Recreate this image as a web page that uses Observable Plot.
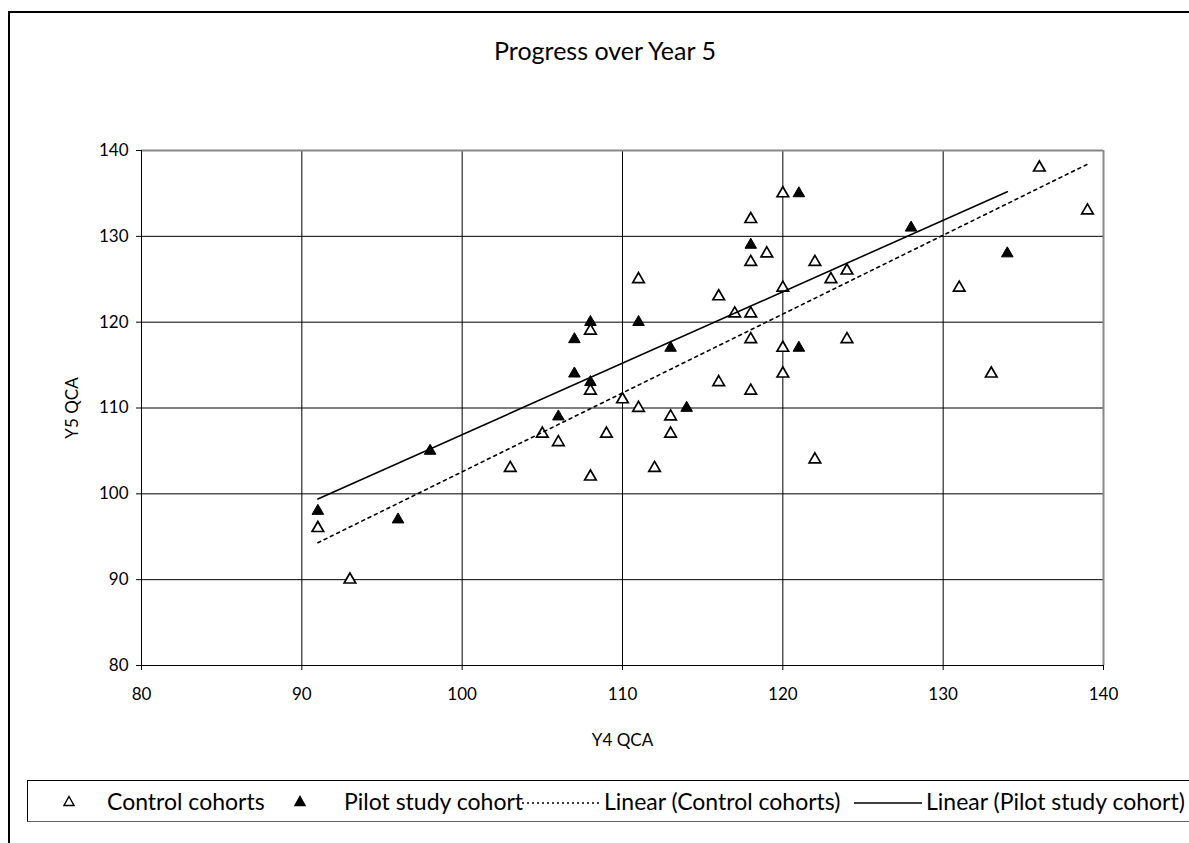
<!DOCTYPE html>
<html>
<head>
<meta charset="utf-8">
<script src="https://cdn.jsdelivr.net/npm/d3@7"></script>
<script src="https://cdn.jsdelivr.net/npm/@observablehq/plot@0.6"></script>
<style>
  body { margin: 0; background: #fff; font-family: Lato, sans-serif; color: #000; }
  #page { position: relative; width: 1189px; height: 843px; overflow: hidden; }
  #frame { position: absolute; left: 8px; top: 11px; width: 1300px; height: 900px; border-top: 2px solid #000; border-left: 2px solid #000; }
  #title { position: absolute; left: 0; width: 1210px; top: 35px; text-align: center; font-size: 25px; line-height: 30px; }
  #chart { position: absolute; left: 0; top: 0; }
  #legend { position: absolute; left: 27px; top: 780px; width: 1200px; height: 40px; border: 1px solid #000; border-bottom-color: #666; font-size: 23px; }
  #legend .item { position: absolute; top: 0; height: 40px; line-height: 40px; white-space: nowrap; }
  #legend svg { position: absolute; top: 0; }
</style>
</head>
<body>
<div id="page">
  <div id="frame"></div>
  <div id="title">Progress over Year 5</div>
  <div id="chart"></div>
  <div id="legend"></div>
</div>
<script>
  /* Datos */
  const controlX = [91, 93, 103, 105, 106, 108, 108, 108, 109, 110, 111, 111, 112, 113, 113, 116, 116, 117, 118, 118, 118, 118, 118, 119, 120, 120, 120, 120, 122, 122, 123, 124, 124, 131, 133, 136, 139]
  const controlY = [96, 90, 103, 107, 106, 102, 112, 119, 107, 111, 125, 110, 103, 109, 107, 123, 113, 121, 132, 127, 121, 118, 112, 128, 135, 124, 117, 114, 127, 104, 125, 126, 118, 124, 114, 138, 133]
  const pilotX = [91, 96, 98, 106, 107, 107, 108, 108, 111, 113, 114, 118, 121, 121, 128, 134]
  const pilotY = [98, 97, 105, 109, 118, 114, 120, 113, 120, 117, 110, 129, 135, 117, 131, 128]

  // extremos de las lineas de tendencia
  const trendControlX = [91, 139]
  const trendControlY = [94.3, 138.4]
  const trendPilotX = [91, 134]
  const trendPilotY = [99.4, 135.2]

  const xTicks = [80, 90, 100, 110, 120, 130, 140]
  const yTicks = [80, 90, 100, 110, 120, 130, 140]
  const seriesNames = ['Control cohorts', 'Pilot study cohort', 'Linear (Control cohorts)', 'Linear (Pilot study cohort)']

  const toRows = (xs, ys) => xs.map((x, i) => ({x: x, y: ys[i]}))
  const control = toRows(controlX, controlY)
  const pilot = toRows(pilotX, pilotY)
  const trendControl = toRows(trendControlX, trendControlY)
  const trendPilot = toRows(trendPilotX, trendPilotY)

  const chart = Plot.plot({
    width: 1189,
    height: 760,
    marginLeft: 141,
    marginRight: 86,
    marginTop: 150,
    marginBottom: 95,
    style: {fontFamily: 'Lato, sans-serif', fontSize: '17px', color: '#000', background: 'transparent'},
    x: {domain: [80, 140]},
    y: {domain: [80, 140]},
    marks: [
      Plot.gridX(xTicks.slice(1, -1), {stroke: '#000', strokeOpacity: 1}),
      Plot.gridY(yTicks.slice(1, -1), {stroke: '#000', strokeOpacity: 1}),
      Plot.ruleX([140], {stroke: '#888', strokeWidth: 2}),
      Plot.ruleY([140], {stroke: '#888', strokeWidth: 2}),
      Plot.ruleX([80], {stroke: '#000'}),
      Plot.ruleY([80], {stroke: '#000'}),
      Plot.axisX({ticks: xTicks, tickSize: 5, tickPadding: 17, label: 'Y4 QCA', labelAnchor: 'center', labelOffset: 80, labelArrow: 'none'}),
      Plot.axisY({ticks: yTicks, tickSize: 5, tickPadding: 8, label: 'Y5 QCA', labelAnchor: 'center', labelOffset: 76, labelArrow: 'none'}),
      Plot.dot(control, {x: 'x', y: 'y', symbol: 'triangle', r: 4.3, fill: '#fff', stroke: '#000', strokeWidth: 1.7}),
      Plot.dot(pilot, {x: 'x', y: 'y', symbol: 'triangle', r: 4.3, fill: '#000', stroke: '#000', strokeWidth: 1}),
      Plot.line(trendControl, {x: 'x', y: 'y', stroke: '#000', strokeWidth: 1.6, strokeDasharray: '3,4'}),
      Plot.line(trendPilot, {x: 'x', y: 'y', stroke: '#000', strokeWidth: 1.6}),
    ],
  })
  d3.select('#chart').append(() => chart)

  /* Leyenda */
  const $legend = d3.select('#legend')
  function symbol(left, filled) {
    const s = $legend.append('svg').attr('width', 12).attr('height', 40).style('left', (left - 6) + 'px')
    s.append('path').attr('d', 'M6,15.5L11,24.5L1,24.5Z')
      .attr('fill', filled ? '#000' : '#fff').attr('stroke', '#000').attr('stroke-width', 1.4)
  }
  function lineSample(left, w, dash) {
    const s = $legend.append('svg').attr('width', w).attr('height', 40).style('left', left + 'px')
    s.append('line').attr('x1', 0).attr('x2', w).attr('y1', 22).attr('y2', 22)
      .attr('stroke', '#000').attr('stroke-width', 1.4).attr('stroke-dasharray', dash)
  }
  function label(left, text) {
    $legend.append('div').attr('class', 'item').style('left', left + 'px').text(text)
  }
  symbol(41, false)
  label(79, seriesNames[0])
  symbol(272, true)
  label(316, seriesNames[1])
  lineSample(494, 78, '2,3')
  label(576, seriesNames[2])
  lineSample(826, 68, null)
  label(898, seriesNames[3])
</script>
</body>
</html>
